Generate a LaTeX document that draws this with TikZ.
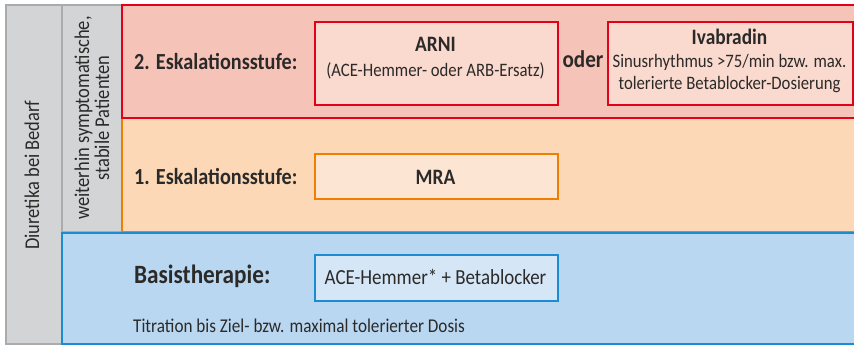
\documentclass[tikz,border=0pt]{standalone}
\usepackage{fontspec}
\setmainfont[FakeStretch=0.88]{Carlito}
\definecolor{txt}{HTML}{2B2A29}
\definecolor{redline}{HTML}{E2001A}
\definecolor{redfill}{HTML}{F6C3B8}
\definecolor{redbox}{HTML}{FAD9CE}
\definecolor{orline}{HTML}{EE7F00}
\definecolor{orfill}{HTML}{FCD8B7}
\definecolor{orbox}{HTML}{FDE5D3}
\definecolor{blline}{HTML}{1B8BD2}
\definecolor{blfill}{HTML}{B9D7F1}
\definecolor{blbox}{HTML}{D5E7F7}
\definecolor{grline}{HTML}{A9ABAE}
\definecolor{grfill}{HTML}{D3D4D6}
\tikzset{
  panel/.style={line width=1.6pt},
  box/.style={draw, line width=1.6pt, inner sep=0pt, anchor=north west},
  lbl/.style={text=txt, inner sep=0pt, anchor=base west, font=\fontsize{23}{25}\selectfont\bfseries},
  sm/.style={text=txt, inner sep=0pt, anchor=base, font=\fontsize{19}{21}\selectfont},
  smb/.style={text=txt, inner sep=0pt, anchor=base, font=\fontsize{22}{24}\selectfont\bfseries},
}
\begin{document}
\begin{tikzpicture}[x=1pt,y=-1pt]
\useasboundingbox (0,0) rectangle (854,346);
\clip (0,0) rectangle (854,346);
% gray columns
\draw[panel, draw=grline, fill=grfill] (6,5) rectangle (62,344);
\draw[panel, draw=grline, fill=grfill] (62,5) rectangle (122,232);
% panels
\draw[panel, draw=blline, fill=blfill] (62,233) rectangle (870,344);
\draw[panel, draw=orline, fill=orfill] (122,118) rectangle (870,231.5);
\draw[panel, draw=redline, fill=redfill] (122,5) rectangle (870,118);
% boxes
\node[box, draw=redline, fill=redbox, minimum width=243pt, minimum height=83pt] (arni) at (314,21) {};
\node[box, draw=redline, fill=redbox, minimum width=245pt, minimum height=83pt] (ivab) at (607,21) {};
\node[box, draw=orline, fill=orbox, minimum width=243pt, minimum height=45pt] (mra) at (314,153) {};
\node[box, draw=blline, fill=blbox, minimum width=243pt, minimum height=46pt] (basis) at (314,254) {};
% labels
\node[lbl] (esk2) at (134,69) {2. Eskalationsstufe:};
\node[lbl] (esk1) at (134,184) {1. Eskalationsstufe:};
\node[lbl, font=\fontsize{26.4}{28}\selectfont\bfseries] (bas) at (134,283) {Basistherapie:};
\node[sm, anchor=base west, font=\fontsize{19.5}{21}\selectfont] (titr) at (133,332) {Titration bis Ziel- bzw. maximal tolerierter Dosis};
\node[smb] (arnit) at (435.5,51) {ARNI};
\node[sm] (arnis) at (435.5,76) {(ACE-Hemmer- oder ARB-Ersatz)};
\node[lbl, anchor=base, font=\fontsize{24}{26}\selectfont\bfseries] (oder) at (583,67) {oder};
\node[smb] (ivabt) at (729.5,44) {Ivabradin};
\node[sm] (ivab1) at (729.5,67.7) {Sinusrhythmus >75/min bzw. max.};
\node[sm] (ivab2) at (729.5,89) {tolerierte Betablocker-Dosierung};
\node[smb] (mrat) at (435.5,184) {MRA};
\node[sm, font=\fontsize{21.5}{23}\selectfont] (basist) at (435.5,284) {ACE-Hemmer* + Betablocker};
\node[text=txt, rotate=90, font=\fontsize{21}{23}\selectfont] (diur) at (32,175) {Diuretika bei Bedarf};
\node[text=txt, rotate=90, align=center, font=\fontsize{21}{20}\selectfont] (weit) at (92,118) {weiterhin symptomatische,\\stabile Patienten};
\end{tikzpicture}
\end{document}
